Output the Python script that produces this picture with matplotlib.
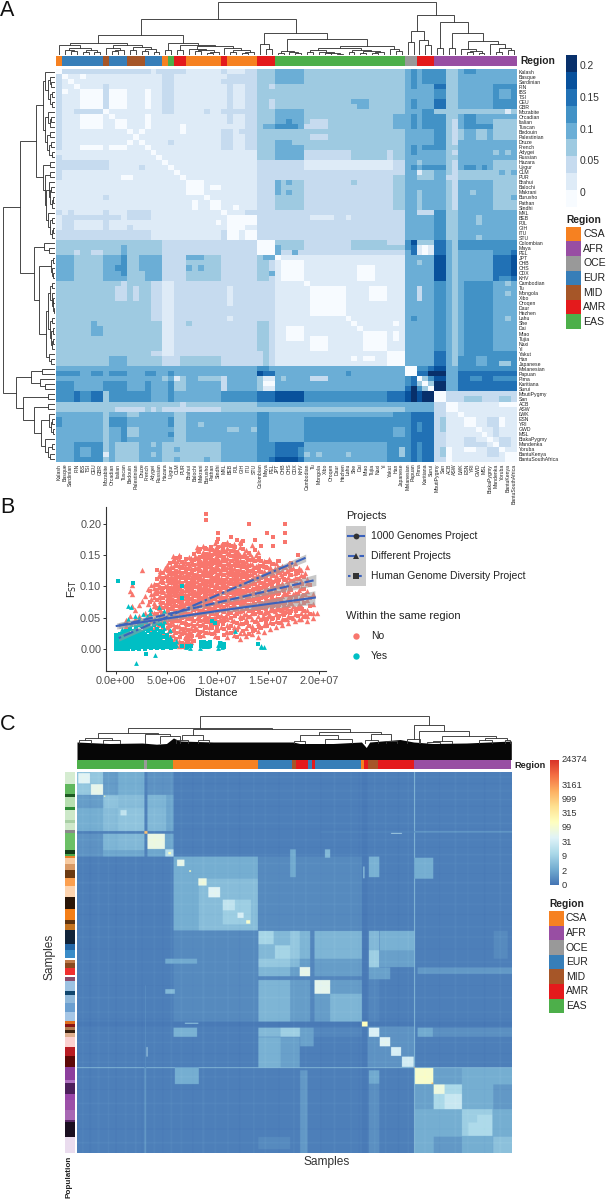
import numpy as np
import matplotlib
matplotlib.use('Agg')
import matplotlib.pyplot as plt
from matplotlib.colors import ListedColormap, LinearSegmentedColormap, BoundaryNorm
from matplotlib.patches import Rectangle

plt.rcParams['font.family'] = ['Liberation Sans', 'DejaVu Sans']
W, H = 606, 1199
fig = plt.figure(figsize=(W / 100, H / 100), dpi=100)

def ax_px(x0, y0, x1, y1):
    a = fig.add_axes([x0 / W, 1 - y1 / H, (x1 - x0) / W, (y1 - y0) / H])
    return a

# ------------------------------------------------------------ data: shared
REGIONS = ['CSA', 'AFR', 'OCE', 'EUR', 'MID', 'AMR', 'EAS']
REGION_COLORS = {'CSA': '#F68121', 'AFR': '#984EA3', 'OCE': '#999999', 'EUR': '#377EB8',
                 'MID': '#A65628', 'AMR': '#E41A1C', 'EAS': '#4DAF4A'}

# ------------------------------------------------------------ data: panel A
POPS = ['Kalash', 'Basque', 'Sardinian', 'FIN', 'IBS', 'TSI', 'CEU', 'GBR', 'Mozabite', 'Orcadian', 'Italian',
        'Tuscan', 'Bedouin', 'Palestinian', 'Druze', 'French', 'Adygei', 'Russian', 'Hazara', 'Uygur', 'CLM', 'PUR',
        'Brahui', 'Balochi', 'Makrani', 'Burusho', 'Pathan', 'Sindhi', 'MXL', 'BEB', 'PJL', 'GIH', 'ITU', 'STU',
        'Colombian', 'Maya', 'PEL', 'JPT', 'CHB', 'CHS', 'CDX', 'KHV', 'Cambodian', 'Tu', 'Mongola', 'Xibo', 'Oroqen',
        'Daur', 'Hezhen', 'Lahu', 'She', 'Dai', 'Miao', 'Tujia', 'Naxi', 'Yi', 'Yakut', 'Han', 'Japanese',
        'Melanesian', 'Papuan', 'Pima', 'Karitiana', 'Surui', 'MbutiPygmy', 'San', 'ACB', 'ASW', 'LWK', 'ESN', 'YRI',
        'GWD', 'MSL', 'BiakaPygmy', 'Mandenka', 'Yoruba', 'BantuKenya', 'BantuSouthAfrica']
POP_REGION_RUNS = [('CSA', 1), ('EUR', 7), ('MID', 1), ('EUR', 3), ('MID', 3), ('EUR', 3), ('CSA', 1), ('EAS', 1),
                   ('AMR', 2), ('CSA', 6), ('AMR', 1), ('CSA', 5), ('AMR', 3), ('EAS', 22), ('OCE', 2), ('AMR', 3),
                   ('AFR', 14)]
FST_LEVELS = [-0.0125, 0.0125, 0.0375, 0.0625, 0.0875, 0.1125, 0.1375, 0.1625, 0.2]
FST_COLORS = ['#f7fbff', '#deebf7', '#c6dbef', '#9ecae1', '#6baed6', '#4292c6', '#2171b5', '#08519c', '#08306b']
FST_BOUNDS = [-0.025, 0, 0.025, 0.05, 0.075, 0.1, 0.125, 0.15, 0.175, 0.225]
FST_TICKS = [0, 0.05, 0.1, 0.15, 0.2]
# (row from, row to, col from, col to, level); painted in order on both triangles
FST_BLOCKS = [
 (0,1,1,16,2),(0,1,17,22,2),(0,1,28,29,2),(1,16,0,1,2),(1,9,18,20,2),(3,8,8,9,2),(8,9,3,4,2),(8,9,6,8,2),
 (1,3,29,34,2),(2,16,32,34,2),(1,11,29,30,2),(8,9,28,32,2),(12,13,28,30,2),(12,13,31,32,2),(14,15,28,30,2),
 (14,15,19,20,2),(8,9,25,26,2),(18,20,0,9,2),(25,26,8,9,2),
 (4,8,4,8,0),(4,8,9,12,0),(4,8,15,16,0),(9,12,4,8,0),(9,12,15,16,0),(10,12,10,12,0),(15,16,4,8,0),(15,16,9,12,0),
 (1,2,4,5,0),(4,5,1,2,0),(12,13,21,22,0),(12,13,14,15,0),(21,22,11,12,0),
 (29,30,1,11,2),(28,30,13,14,2),(28,30,15,16,2),(28,34,2,3,2),(28,31,8,9,2),(30,32,1,2,2),(32,34,0,15,2),
 (28,29,32,34,2),(32,34,28,29,2),
 (22,25,22,25,0),(23,24,26,28,0),(26,28,26,28,0),(26,28,23,24,0),(27,28,30,31,0),(30,31,27,28,0),
 (29,32,29,32,0),(29,31,32,34,0),(32,34,29,31,0),(32,34,32,34,0),
 (0,34,34,37,3),(16,22,34,37,2),(16,19,34,36,3),(28,34,34,37,2),(30,33,35,36,3),(28,29,34,35,0),(28,29,36,37,0),
 (12,13,35,36,4),(2,3,34,35,2),(2,3,36,37,2),(6,8,36,37,2),
 (0,17,37,59,3),(17,34,37,59,2),(0,3,37,42,4),(9,12,37,42,4),(12,13,37,41,5),(14,17,37,42,4),(18,20,42,57,1),
 (22,28,37,42,3),(22,25,37,38,4),(22,23,39,40,4),(24,25,39,40,4),(6,7,51,53,4),(7,8,50,51,4),(9,12,57,58,4),
 (11,12,58,59,4),(11,12,42,46,2),(10,11,43,46,2),(13,14,43,46,2),(16,17,42,50,2),(16,18,56,57,2),(18,20,57,59,2),
 (22,28,57,59,3),(26,28,57,58,2),(22,23,50,51,3),(29,30,43,47,1),(29,30,49,50,1),
 (0,34,59,61,4),(0,4,60,61,5),(6,8,60,61,5),(9,12,60,61,5),(15,17,60,61,5),(19,20,59,61,5),
 (0,34,61,64,4),(0,4,62,64,5),(4,6,63,64,5),(3,4,63,64,6),(6,8,63,64,6),(6,8,62,63,5),(9,12,62,64,5),(14,17,62,64,5),
 (18,19,61,63,3),(19,20,61,64,5),(20,22,61,64,3),(20,21,61,62,2),(22,34,61,62,3),(28,29,61,64,2),
 (0,34,64,66,5),(3,4,64,66,6),(6,8,64,66,6),(16,28,64,66,4),(19,20,64,66,5),
 (0,34,66,68,3),(0,1,66,67,4),(10,18,67,68,2),(21,22,66,68,2),(28,34,67,68,2),
 (0,34,68,78,4),(0,1,69,71,5),(3,8,73,78,5),(4,6,74,76,4),(9,12,69,71,5),(11,12,71,73,5),(12,14,71,73,3),
 (12,14,74,78,3),(16,17,74,75,3),(16,17,76,77,3),(19,20,69,71,5),(19,20,72,73,5),(18,22,73,78,3),(20,22,68,73,3),
 (23,28,73,78,3),(26,27,76,78,4),(29,31,71,72,3),(33,34,71,72,3),(20,21,75,76,4),
 (34,37,0,18,3),(34,37,18,34,2),(36,37,3,4,2),(36,37,6,8,2),(35,37,11,12,4),(34,37,34,37,0),
 (34,37,37,59,2),(34,37,37,42,3),(34,37,50,54,3),(34,37,59,61,4),(34,35,60,61,7),(34,37,61,64,1),(34,37,64,66,6),
 (34,37,66,68,3),(34,37,68,78,4),(34,35,76,78,5),
 (37,42,0,3,4),(37,42,3,8,3),(37,42,8,12,4),(37,41,11,12,5),(39,40,10,11,5),(37,42,12,14,3),(37,42,14,18,4),
 (40,42,14,15,3),(37,42,18,20,2),(37,42,20,21,2),(37,42,28,34,2),
 (42,59,0,18,3),(10,11,43,46,2),(11,12,42,46,2),(13,14,43,46,2),(50,53,6,8,4),(50,51,7,8,3),(57,59,9,12,4),
 (42,50,16,18,2),(56,57,16,18,2),(57,59,21,26,3),(57,58,26,28,3),
 (37,42,34,36,3),(37,42,36,37,2),(40,41,36,37,4),(37,38,35,37,4),
 (42,50,34,36,2),(50,56,34,36,3),(56,59,35,36,3),(42,59,36,37,2),
 (37,59,37,59,1),(43,49,43,49,0),(53,56,43,46,0),(52,56,52,56,0),(43,46,53,55,0),(39,42,51,54,0),(38,42,38,42,0),
 (57,58,50,51,0),(57,58,52,54,0),(56,59,56,59,0),
 (37,59,59,60,4),(37,42,60,61,5),(42,59,60,61,4),(42,43,59,60,3),(49,50,60,61,5),
 (37,42,61,62,4),(42,59,61,62,3),(43,46,61,62,2),(56,59,61,62,2),(37,59,62,64,4),(49,50,63,64,5),
 (37,42,64,66,7),(37,38,64,66,6),(41,42,64,66,6),(42,56,64,66,5),(56,59,64,66,6),
 (37,59,66,68,4),(43,59,67,68,2),
 (37,42,68,73,4),(42,59,68,69,4),(42,59,69,73,5),(56,58,70,73,4),
 (37,42,73,78,6),(38,41,77,78,7),(42,59,73,78,4),(42,43,76,77,3),(45,46,76,77,3),(50,51,76,77,3),
 (59,64,0,59,4),(60,61,0,4,5),(60,61,6,8,5),(60,61,9,12,5),(60,61,15,17,5),(60,61,19,20,5),(60,61,34,35,7),
 (60,61,35,37,6),(59,60,34,36,5),(61,62,20,21,1),(61,62,21,22,3),(61,62,24,29,3),(61,64,28,29,2),(61,64,34,35,3),
 (61,64,35,37,1),(62,63,35,37,0),(61,62,38,39,3),(62,64,0,3,5),(62,64,8,12,5),(62,64,15,16,5),(61,62,18,19,3),
 (62,64,19,20,5),(62,64,20,22,3),(60,61,49,50,5),(61,62,43,46,2),
 (59,64,59,64,6),(59,61,59,61,0),(59,60,61,63,5),(60,61,63,64,8),(61,62,62,63,3),(62,63,63,64,3),(61,62,63,64,5),
 (59,64,64,66,7),(60,61,64,66,8),(62,64,64,66,8),(59,64,66,68,4),(59,64,68,78,6),(59,60,68,78,5),(61,62,74,77,5),
 (59,60,72,73,6),
 (64,66,0,8,5),(64,66,3,4,6),(64,66,6,8,6),(64,66,8,16,5),(64,66,16,28,4),(64,66,19,20,5),(64,66,28,34,5),
 (64,66,34,37,6),(64,66,37,42,7),(64,66,42,56,5),(64,66,56,59,6),(64,66,64,66,0),(64,66,66,78,2),(64,66,69,71,3),
 (64,66,74,76,3),
 (66,68,0,34,3),(66,68,8,9,2),(67,68,10,15,2),(67,68,16,17,2),(67,68,18,28,2),(66,67,21,22,2),
 (66,67,34,59,4),(67,68,34,59,3),
 (68,78,0,34,4),(68,78,8,9,3),(69,71,0,1,5),(69,71,9,12,5),(71,74,11,12,5),(71,73,12,14,3),(68,69,12,14,3),
 (74,78,10,14,3),(74,78,3,8,5),(75,77,4,6,4),(76,77,8,9,1),(74,75,16,17,3),(76,77,16,17,3),(69,71,19,20,5),
 (72,73,19,20,5),(68,74,20,22,3),(71,72,29,31,3),(71,72,33,34,3),(74,78,18,28,3),(75,76,20,21,4),(77,78,20,21,4),
 (77,78,25,26,4),(70,71,24,25,3),
 (68,78,34,37,5),(68,74,36,37,4),(77,78,36,37,6),(68,74,37,42,4),(74,78,37,42,6),(77,78,37,41,7),(75,77,41,42,5),
 (68,78,42,57,5),(68,69,42,57,4),(74,78,42,56,4),(76,77,42,43,3),(76,77,44,45,3),(76,77,49,50,3),(68,78,57,59,5),
 (71,73,57,59,4),(75,77,58,59,3),
 (68,78,59,60,5),(68,78,60,64,6),(74,78,61,62,5),(70,72,61,62,5),
 (68,78,64,66,2),(69,72,65,66,3),(75,77,65,66,3),
 (66,78,66,78,1),(66,68,66,68,0),(69,71,69,71,0),(69,71,75,76,0),(69,71,73,74,2),(74,75,69,73,2),(74,75,75,77,2),
 (75,77,73,74,2),(76,78,76,78,0),(76,78,66,67,0),(66,67,75,77,0),
 (8,9,64,76,3),
]
_ = None
TREE_G0 = [12, [10, _, [7.5, [5.5, _, [4, _, _]], [5, [3.5, _, _], [3, _, _]]]],
           [10.5, [7, _, [5.5, [4, _, _], _]], [8, [5.5, _, _], [6, [4, _, _], [3.5, _, _]]]]]
TREE_G1 = [12.5, [4.7, _, _], [10.5, [5, _, _], [9, [6.5, _, [5, [4, _, _], [3.5, [2.5, _, _], _]]],
                                                 [7, _, [5, [3.5, _, _], [3, [2, _, _], _]]]]]]
TREE_G2 = [11, _, [6, _, _]]
TREE_G3 = [16, [4.5, [2.5, _, _], [3, _, [2, _, _]]],
           [9.5, [7, [5, [3, _, _], [3.5, _, [2.5, [2, _, _], [1.5, _, _]]]],
                  [5, [3.5, _, _], [4, [2.5, _, _], [3, [2, _, _], _]]]], [6, _, [4, _, _]]]]
TREE_R = [40, [24.5, [13, _, _], [15, _, [10, _, _]]],
          [33, [7, _, _], [22, [7, _, _], [14, [6, _, [4, [3, _, _], [2.5, _, _]]], [10.7, _, [7, [3, _, _], [5, _, _]]]]]]]
TREE_A = [53.5, [36, [20, TREE_G0, TREE_G1], [22, TREE_G2, TREE_G3]], TREE_R]

# ------------------------------------------------------------ data: panel B
DIST_TICKS = [0, 5, 10, 15, 20]
DIST_LABELS = ['0.0e+00', '5.0e+06', '1.0e+07', '1.5e+07', '2.0e+07']
FST_Y_TICKS = [0, 50, 100, 150, 200]
FST_Y_LABELS = ['0.00', '0.05', '0.10', '0.15', '0.20']
# x in 1e6, y in 1/1000
NO_TRI = [
 (1.0,[37,46]),(1.4,[92,53]),(1.6,[103,88,68]),(1.9,[62,47]),(2.3,[70,52]),(2.6,[127,77,44]),(2.9,[58,41,85,35]),
 (3.2,[72,96,48,31]),(3.5,[28,44,61,79,102,87]),
 (3.8,[14,33,47,58,69,74,83,90,97,104]),
 (4.4,[9,18,27,39,50,62,71,77,84,92,99,108,117,124]),
 (5.0,[6,15,24,35,43,52,60,68,75,81,88,95,102,110,119,128,134]),
 (5.6,[7,13,22,31,40,49,57,66,72,80,87,93,100,107,114,122,131,142,149]),
 (6.2,[5,12,20,29,37,46,54,63,70,76,83,90,97,104,111,118,126,135,144,151]),
 (6.8,[4,11,18,26,35,44,52,60,67,74,81,88,95,103,110,116,124,132,141]),
 (7.4,[10,17,25,33,42,50,59,68,75,82,89,96,102,109,115,123,130,138,146]),
 (8.0,[24,32,41,49,57,65,73,80,86,93,100,108,115,122,129,137,145,158,163]),
 (8.6,[22,30,39,47,56,64,71,78,85,92,99,106,113,120,127,134,141,149,156,165]),
 (9.2,[26,35,44,52,61,68,76,83,90,97,104,111,118,125,133,140,147,155,162]),
 (9.8,[20,30,41,49,58,66,74,81,88,95,103,110,117,124,131,139,146,154,160,170]),
 (10.4,[35,46,54,63,71,78,85,92,100,107,114,121,128,136,143,150,158,166]),
 (11.0,[18,27,38,47,57,65,73,80,87,95,102,109,116,123,131,138,146,153,162,172]),
 (11.6,[22,34,45,54,63,71,78,86,93,100,108,115,122,130,137,145,152,160,168]),
 (12.2,[16,25,41,52,60,68,76,84,91,98,106,113,120,128,135,143,150,164,171]),
 (12.8,[20,33,47,56,65,72,80,88,95,103,110,118,125,133,140,149,158]),
 (13.4,[24,36,48,58,66,74,82,90,97,105,112,120,128,136,148,166]),
 (14.0,[18,29,41,52,61,70,78,86,94,102,110,118,127,135,144,155]),
 (14.6,[27,38,49,58,67,75,84,92,100,108,117,125,133,141]),
 (15.2,[31,43,53,62,71,80,88,96,105,113,122,131,140]),
 (15.8,[34,45,55,64,72,82,91,100,110,119,127,137]),
 (16.4,[38,48,57,66,75,85,96,106,116,126,133]),
 (17.0,[42,52,61,70,81,92,104,115,124,136]),
 (17.6,[44,55,65,78,90,103,114,122,137]),
 (18.2,[47,58,69,84,98,109,118,126]),
 (18.8,[45,53,62,78,92,105,112,131]),
 (19.4,[50,58,72,88]),(19.8,[57]),
 (4.25,[66,83,101,118]),(4.9,[48,70,86,101,116,130]),(5.45,[16,44,68,83,99,116,133]),(6.05,[10,36,60,79,94,108,124,141]),
 (6.65,[6,30,55,71,88,102,118,137]),(7.25,[7,28,52,74,91,105,120,134,147]),(7.85,[35,58,75,90,103,118,131,149]),
 (8.45,[40,62,79,94,108,122,136,152]),(9.05,[46,65,80,95,109,122,138,150]),(9.65,[26,50,69,84,98,113,127,141,157]),
 (10.25,[47,66,81,96,110,124,138,153]),(10.85,[26,53,71,85,99,113,128,143,159,168]),(11.45,[46,68,84,98,113,127,142,158]),
 (12.05,[37,60,78,94,109,124,139,156]),(12.65,[25,56,76,92,107,122,137,154]),(13.25,[53,72,89,105,120,136,152]),
 (13.85,[46,68,85,100,116,132,150]),(14.45,[52,72,88,104,120,136]),(15.05,[56,75,92,108,126,144]),
 (15.65,[60,78,95,112,130]),(16.25,[43,62,80,100,120]),(16.85,[47,66,88,108,127]),(17.45,[50,68,88,110,130]),
 (18.05,[48,72,94,114,130]),(18.65,[56,88,122]),
]
NO_SQ = [
 (3.4,[52,75,93]),(4.1,[21,40,55,66,78,88,95,103,112,127]),
 (4.7,[11,20,31,42,53,65,73,82,90,97,105,113,121]),
 (5.3,[9,18,27,37,46,56,63,71,78,85,91,98,105,112,120,127,138]),
 (5.9,[6,16,25,34,44,51,61,69,77,84,90,96,103,110,117,125,133,146]),
 (6.5,[3,9,23,32,41,50,58,65,73,79,86,93,100,106,113,121,129,139]),
 (7.1,[8,14,21,30,38,47,55,63,71,78,85,92,98,106,113,120,128,136]),
 (7.7,[13,28,37,45,54,62,70,77,84,91,99,105,112,119,127,134,142,152]),
 (8.3,[19,27,36,44,53,61,68,75,82,89,96,103,110,117,125,132,139,148,160]),
 (8.9,[25,34,43,50,59,67,74,81,88,94,101,108,116,123,130,137,144,152,160,207,217]),
 (9.5,[23,33,38,47,55,63,71,79,86,93,100,107,114,121,128,136,143,151,158]),
 (10.1,[17,28,39,43,51,60,68,75,83,90,98,105,112,119,126,134,141,149,156,163,176,185]),
 (10.7,[22,31,44,50,59,67,75,82,89,97,104,111,118,126,133,141,148,155,168]),
 (11.3,[25,36,49,57,66,74,81,89,96,104,111,118,126,133,141,149,157,165,180]),
 (11.9,[19,30,42,55,64,73,80,88,95,102,110,117,125,132,140,147,155,175]),
 (12.5,[28,39,50,60,69,77,85,92,100,107,115,123,131,139,148,160,173]),
 (13.1,[23,37,51,61,70,78,85,93,101,109,116,124,133,142,153,200]),
 (13.7,[30,43,55,63,71,80,88,96,104,112,121,130,140,158,175]),
 (14.3,[33,46,57,65,74,82,90,98,106,114,123,132,141,165]),
 (14.9,[36,47,58,68,77,85,94,103,111,120,129,139,185]),
 (15.5,[39,50,60,69,78,87,97,107,116,125,136,165,180]),
 (16.1,[41,52,62,70,80,90,100,111,121,130,140]),
 (16.7,[46,57,65,74,86,98,110,120,129,172,185,200]),
 (17.3,[49,60,71,83,95,108,118,126,137]),
 (17.9,[53,63,76,88,100,112,121,151]),
 (18.5,[51,60,73,86,96,115]),
 (19.1,[56,68,82,102]),
 (4.55,[58,74,94,110,122]),(5.15,[33,61,76,93,108,124]),(5.75,[28,54,75,92,105,121,139]),(6.35,[18,44,67,81,97,115,131,148]),
 (6.95,[15,40,64,84,99,112,127,144]),(7.55,[20,47,66,80,94,110,125,140]),(8.15,[22,48,69,85,98,113,127,143,155]),
 (8.75,[33,55,72,87,103,118,131,146,161]),(9.35,[37,58,74,91,106,119,133,149,164]),(9.95,[34,56,72,86,101,115,129,144,159,172]),
 (10.55,[40,60,76,90,105,118,132,147,162]),(11.15,[33,58,76,91,106,120,135,150,167]),(11.75,[28,52,74,90,104,119,134,149,163]),
 (12.35,[48,70,88,103,118,132,147,168]),(12.95,[41,63,82,98,114,129,145]),(13.55,[29,59,78,94,110,125,143]),
 (14.15,[35,62,80,96,112,128,146]),(14.75,[42,64,81,97,113,131]),(15.35,[47,66,84,101,118,136]),
 (15.95,[50,69,87,105,123,141]),(16.55,[54,72,92,112,130]),(17.15,[58,76,98,119,132]),(17.75,[60,82,104,125]),(18.35,[64,80,104]),
]
YES_SQ = [
 (0.0,[0,3,6,9,12,15,18,22]),(0.2,[1,5,8,11,14,17,21,108]),(0.4,[0,4,7,10,13,16,20,24]),(0.6,[2,6,9,12,15,19,23]),
 (0.8,[0,3,7,11,14,18,22,26]),(1.0,[1,5,8,12,16,20,25,29]),(1.2,[0,4,9,13,17,21,27]),(1.4,[2,6,10,15,19,24,31]),
 (1.7,[0,5,9,13,18,23,28,105]),(2.0,[1,6,11,15,20,26,34]),(2.3,[0,4,8,13,17,22,29,38]),(2.6,[2,7,12,16,21,27,36]),
 (2.9,[0,5,9,14,19,24,31,43]),(3.0,[-8]),(3.2,[2,6,11,16,21,28,35]),(3.5,[1,7,12,18,24,33,47]),(3.8,[3,8,14,20,27,38]),
 (4.1,[1,6,12,17,23,31,42]),(4.4,[2,8,14,21,29,39]),(4.7,[1,6,11,18,26,36]),(5.0,[3,9,15,22]),(5.4,[1,6,12]),
 (5.8,[3,8]),(6.5,[81,100,4]),(7.0,[2,5]),(7.4,[4]),(8.4,[5,10]),(8.7,[3,8,11]),(9.0,[2,6,9]),(9.3,[5,10]),
 (9.5,[45]),(9.8,[42]),(10.3,[4,9]),(10.7,[3,7]),(14.0,[8]),
]
YES_TRI = [
 (0.6,[27,31]),(1.2,[47,68]),(1.5,[67,40]),(1.9,[35,52]),(2.0,[-23]),(2.3,[43,50]),(2.7,[56,30,45]),(3.1,[53,38,41]),
 (3.4,[57,63,33]),(3.9,[-10,30,47]),(4.3,[67,50,25]),(4.8,[44,60,33]),(5.3,[30,18]),(5.9,[12,6]),(6.9,[3]),(7.3,[1,6]),
 (8.3,[1]),(9.1,[5,10]),(10.1,[1,6]),(10.5,[2,9]),(11.7,[28]),(14.3,[3,5]),(14.6,[3]),
]
NO_CIRC = [(4.2,[36]),(5.6,[44]),(6.6,[28]),(8.2,[70]),(9.4,[66]),(10.9,[92]),(12.4,[84]),(15.3,[74])]
YES_CIRC = [(0.5,[10,17]),(1.1,[6,19]),(1.9,[9]),(2.5,[13]),(3.7,[16])]
# fit lines and their ribbons: x, fit, half width
FIT_SOLID = ([0.1, 10.0, 19.6], [36.5, 60.5, 82.0], [5, 2.5, 11])
FIT_DASH = ([0.3, 10.0, 19.7], [37.0, 74.0, 110.5], [5, 2.5, 9])
FIT_DOTDASH = ([0.3, 10.0, 18.7], [17.0, 86.0, 146.0], [5, 2.5, 6])
PROJECTS = ['1000 Genomes Project', 'Different Projects', 'Human Genome Diversity Project']

# ------------------------------------------------------------ data: panel C
CM_COLORS = ['#4575B4', '#74ADD1', '#ABD9E9', '#E0F3F8', '#FFFFBF', '#FEE090', '#FDAE61', '#F46D43', '#D73027']
CM_LABELS = ['24374', '3161', '999', '315', '99', '31', '9', '2', '0']
CM_VALUES = [1.0, 0.8, 0.686, 0.57, 0.456, 0.34, 0.23, 0.11, 0.0]
TOP_RUNS = [(0, 155, 'EAS'), (155, 162, 'OCE'), (162, 222, 'EAS'), (222, 416, 'CSA'), (416, 494, 'EUR'), (494, 505, 'MID'),
            (505, 532, 'AMR'), (532, 541, 'EUR'), (541, 548, 'AMR'), (548, 654, 'EUR'), (654, 660, 'CSA'), (660, 670, 'AMR'),
            (670, 694, 'MID'), (694, 775, 'AMR'), (775, 1000, 'AFR')]
POP_EDGES = [0, 31, 59, 67, 92, 101, 127, 134, 153, 162, 206, 216, 221, 227, 241, 258, 278, 300, 330, 361, 389, 400, 416,
             451, 468, 490, 494, 503, 514, 534, 538, 549, 575, 586, 608, 630, 654, 662, 669, 678, 687, 696, 722, 747,
             776, 809, 818, 846, 862, 888, 914, 919, 958, 1000]
POP_COLORS = ['#d5ecd1', '#60b85d', '#1e5a22', '#b7dfb0', '#2e8b36', '#cce8c8', '#a9cfa5', '#cfe8ca', '#8a8a8a', '#6cc066',
              '#133d18', '#4aa84a', '#e8832a', '#f7caa0', '#d99a66', '#6b3a12', '#fca050', '#fdd4b0', '#2a1608', '#f47f18',
              '#5d3310', '#c47320', '#12243a', '#2467a8', '#3a8cc8', '#ffffff', '#c07a4a', '#8a4a20', '#f03030', '#ffffff',
              '#8d4a6a', '#9cc2e2', '#11466e', '#8fb8da', '#6b9fd0', '#a5c6e6', '#e07020', '#8a1515', '#b07a50', '#3a2010',
              '#e0b090', '#fbd0d0', '#b81c24', '#5e0808', '#8d3f9d', '#b070c0', '#4d1f5c', '#9845a8', '#9c50a8', '#a868b4',
              '#5a2a66', '#1a0f20', '#eadcee']
# (from, to, from, to, colour position) in sample order
IBD_BLOCKS = [
 (0,222,0,222,.08),(0,60,0,60,.19),(60,155,60,155,.17),(0,60,63,95,.09),(0,60,95,155,.13),(63,95,63,95,.19),(95,155,95,155,.19),
 (3,30,3,30,.38),(32,60,32,60,.4),(0,30,32,60,.2),(100,114,100,114,.3),(62,65,62,65,.5),
 (162,222,162,222,.11),(162,202,162,202,.42),(203,222,203,222,.28),(210,216,210,216,.5),(0,60,162,222,.07),
 (60,155,162,205,.15),(60,155,205,222,.11),(95,155,162,205,.16),(155,162,0,222,.03),
 (222,416,222,416,.13),(280,416,280,416,.17),(335,400,335,400,.22),(230,247,230,247,.4),(279,298,279,298,.42),
 (302,329,302,329,.38),(335,363,335,363,.3),(369,383,369,383,.36),(389,398,389,398,.47),(258,262,258,262,.5),
 (222,416,417,655,.05),(490,503,203,276,.12),(570,582,203,225,.16),
 (417,655,417,655,.09),(417,512,417,512,.16),(417,490,512,655,.15),(417,452,417,452,.24),(455,490,455,490,.24),
 (512,536,512,536,.4),(546,582,546,582,.4),(610,620,610,620,.4),(582,655,582,655,.15),(490,512,417,490,.2),
 (536,546,417,655,.04),
 (655,668,0,1000,.012),(658,661,248,279,.18),(655,668,655,668,.5),
 (668,775,668,775,.07),(671,695,671,695,.36),(696,720,696,720,.38),(722,745,722,745,.36),(747,774,747,774,.34),
 (671,695,417,490,.16),(696,775,417,490,.14),(671,695,222,276,.14),(671,695,490,655,.04),(671,695,490,515,.16),
 (468,512,671,695,.22),(468,512,696,775,.1),(671,720,513,544,.1),
 (775,1000,775,1000,.12),(776,819,776,819,.47),(820,885,820,885,.25),(820,845,820,845,.43),(845,885,845,885,.32),
 (885,955,885,955,.22),(900,955,920,955,.26),(957,1000,957,1000,.18),(776,819,820,885,.1),(776,885,885,1000,.13),
 (820,885,957,1000,.08),(885,955,955,1000,.13),
 (775,777,0,1000,.18),(157,158,560,1000,.08),(775,1000,155,159,.08),(722,747,160,162,.28),
 (783,1000,513,530,.08),(783,818,671,695,.12),(818,1000,671,695,.06),(783,815,228,250,.12),(958,990,417,490,.05),
 (225,280,775,819,.13),(815,819,815,819,.7),(775,777,775,777,.8),(155,162,155,162,.7),
]
# thin lighter or darker lines that run through the whole matrix: from, to, change of colour position
IBD_STRIPES = [(12,15,.01),(28,33,-.008),(47,52,.008),(71,74,.012),(88,92,-.006),(110,114,.01),(133,137,.012),(148,151,-.006),
               (176,180,.01),(196,199,-.008),(215,219,.012),(238,242,.01),(265,268,-.006),(288,293,.012),(316,320,.008),
               (345,349,.01),(372,376,-.008),(405,408,.014),(431,435,.01),(463,466,-.006),(497,500,.012),(524,528,.009),
               (559,562,-.007),(590,594,.011),(628,632,.01),(647,650,-.006),(683,686,.011),(708,711,.012),(737,741,-.007),
               (760,763,.013),(798,802,.01),(832,835,-.006),(868,872,.011),(897,900,.009),(935,939,-.006),(971,975,.012)]
# dendrogram heights in pixels above the base of the black mass, leaves given in sample order
TREE_C = [44,
          [32, [27, [21.7, [19.3, 5, 32], [20, 60, 100]], [26, 157, [24, 190, 238]]],
           [31, [24.3, [20, 229, 255], [19.5, 278, 304]],
            [27.7, [24.3, [19, 500, 526], [21, 570, 634]], [26, [20, 664, 692], [19, 712, 736]]]]],
          [35, [21, 760, 790],
           [28.7, 788, [23.7, [18.7, [18, 805, 835], 863], [22, [19.5, 925, 955], [20, 985, 997]]]]]]
MASS_S = [0, 75, 150, 183, 206, 222, 237, 314, 414, 498, 513, 590, 655, 666, 674, 744, 775, 820, 897, 1000]
MASS_H = [17.5, 16, 16.5, 15.3, 16, 21.5, 18.5, 17.5, 17.5, 17.5, 16, 16, 17.5, 12, 17.5, 20, 17.5, 16, 16.5, 18.5]

# ============================================================ panel A
def tree_links(node, leaf_x, links):
    if node is None:
        x = leaf_x[0]
        leaf_x[0] += 1
        return x + 0.5, 0.0
    h, a, b = node
    xa, ha = tree_links(a, leaf_x, links)
    xb, hb = tree_links(b, leaf_x, links)
    links.append((xa, xb, ha, hb, h))
    return (xa + xb) / 2, h

def tree_links_c(node, links):
    if not isinstance(node, list):
        return float(node), 17.0
    h, a, b = node
    xa, ha = tree_links_c(a, links)
    xb, hb = tree_links_c(b, links)
    links.append((xa, xb, ha, hb, h))
    return (xa + xb) / 2, h

n = len(POPS)
M = np.ones((n, n), dtype=int)
for r0, r1, c0, c1, lv in FST_BLOCKS:
    M[r0:r1, c0:c1] = lv
    M[c0:c1, r0:r1] = lv
np.fill_diagonal(M, 0)
vals = np.array(FST_LEVELS)[M]
cm_fst = ListedColormap(FST_COLORS)
norm_fst = BoundaryNorm(FST_BOUNDS, 9)

ax = ax_px(56, 69, 517, 462)
ax.imshow(vals, cmap=cm_fst, norm=norm_fst, aspect='auto', interpolation='nearest', extent=(0, n, n, 0))
ax.set_xticks(np.arange(n) + .5, POPS, rotation=90, fontsize=3.7, color='#222222')
ax.yaxis.tick_right()
ax.set_yticks(np.arange(n) + .5, POPS, fontsize=3.7, color='#222222')
ax.tick_params(length=0, pad=1.2)
for s in ax.spines.values():
    s.set_visible(False)

links = []
tree_links(TREE_A, [0], links)
ax = ax_px(56, 0, 517, 55)
for xa, xb, ha, hb, h in links:
    ax.plot([xa, xa, xb, xb], [ha, h, h, hb], color='#3a3a3a', lw=0.65, solid_joinstyle='miter')
ax.set_xlim(0, n); ax.set_ylim(0, 55); ax.axis('off')

ax = ax_px(3, 69, 55, 462)
for xa, xb, ha, hb, h in links:
    ax.plot([ha, h, h, hb], [xa, xa, xb, xb], color='#3a3a3a', lw=0.65, solid_joinstyle='miter')
ax.set_ylim(n, 0); ax.set_xlim(53.5, 0); ax.axis('off')

ax = ax_px(56, 56, 517, 66)
pos = 0
for reg, cnt in POP_REGION_RUNS:
    ax.barh(0, cnt, left=pos, height=1, color=REGION_COLORS[reg], lw=0)
    pos += cnt
ax.set_xlim(0, n); ax.set_ylim(-.5, .5); ax.axis('off')

ax = ax_px(566, 55, 577, 207)
ax.imshow(np.array(FST_LEVELS[::-1]).reshape(-1, 1), cmap=cm_fst, norm=norm_fst, aspect='auto', interpolation='nearest')
ax.axis('off')

# ============================================================ panel B
ax = ax_px(106.3, 506.7, 326, 670.7)
C_NO, C_YES = '#F8766D', '#00BFC4'
def draw_cols(cols, marker, size, color, z):
    xs = [c[0] for c in cols for _y in c[1]]
    ys = [y for c in cols for y in c[1]]
    ax.scatter(xs, ys, s=size, marker=marker, color=color, linewidths=0, zorder=z)
draw_cols(NO_TRI, '^', 15, C_NO, 2)
draw_cols(NO_SQ, 's', 8.5, C_NO, 2)
draw_cols(NO_CIRC, 'o', 8, C_NO, 2)
draw_cols(YES_TRI, '^', 12, C_YES, 2.5)
draw_cols(YES_SQ, 's', 7.5, C_YES, 2.5)
draw_cols(YES_CIRC, 'o', 8, C_YES, 2.5)
for fit, ls in [(FIT_SOLID, '-'), (FIT_DASH, (0, (4.5, 1.6))), (FIT_DOTDASH, (0, (1.2, 1.4, 5, 1.4)))]:
    fx, fy, fw = [np.array(v, float) for v in fit]
    ax.fill_between(fx, fy - fw, fy + fw, color='#999999', alpha=.55, lw=0, zorder=3)
    ax.plot(fx, fy, color='#3B62BC', lw=1.5, ls=ls, zorder=4)
ax.set_xlim(-0.926, 20.7); ax.set_ylim(-35.4, 228)
ax.set_xticks(DIST_TICKS, DIST_LABELS)
ax.set_yticks(FST_Y_TICKS, FST_Y_LABELS)
ax.tick_params(colors='#4D4D4D', labelsize=7.8, length=2.2, width=.7, pad=1.5, color='#333333')
for k in ('top', 'right'):
    ax.spines[k].set_visible(False)
for k in ('left', 'bottom'):
    ax.spines[k].set_color('#333333'); ax.spines[k].set_linewidth(.8)
ax.set_xlabel('Distance', fontsize=8, color='#222222', labelpad=1.5)
ax.set_ylabel(r'F$_{\mathrm{ST}}$', fontsize=8, color='#222222', labelpad=1)

# ============================================================ panel C
N = 1000
G = np.zeros((N, N)) + .025
for a0, a1, b0, b1, v in IBD_BLOCKS:
    G[a0:a1, b0:b1] = v
    G[b0:b1, a0:a1] = v
for s0, s1, d in IBD_STRIPES:
    G[s0:s1, :] += d
    G[:, s0:s1] += d
cm_ibd = LinearSegmentedColormap.from_list('ibd', CM_COLORS)
ax = ax_px(77, 771.7, 511.3, 1152.7)
ax.imshow(G, cmap=cm_ibd, vmin=0, vmax=1, aspect='auto', interpolation='antialiased', extent=(0, N, N, 0))
ax.axis('off')

ax = ax_px(77, 760, 511.3, 769)
for s0, s1, reg in TOP_RUNS:
    ax.barh(0, s1 - s0, left=s0, height=1, color=REGION_COLORS[reg], lw=0)
ax.set_xlim(0, N); ax.set_ylim(-.5, .5); ax.axis('off')

ax = ax_px(65.3, 771.7, 74.7, 1152.7)
for i, c in enumerate(POP_COLORS):
    ax.bar(0, POP_EDGES[i + 1] - POP_EDGES[i], bottom=POP_EDGES[i], width=1, color=c, lw=0)
ax.set_ylim(N, 0); ax.set_xlim(-.5, .5); ax.axis('off')

ax = ax_px(77, 714, 511.3, 759.5)
ax.fill_between(MASS_S, 0, MASS_H, color='#060606', lw=0)
links_c = []
tree_links_c(TREE_C, links_c)
for xa, xb, ha, hb, h in links_c:
    ax.plot([xa, xa, xb, xb], [ha, h, h, hb], color='#3a3a3a', lw=0.65, solid_joinstyle='miter')
ax.set_xlim(0, N); ax.set_ylim(0, 45.5); ax.axis('off')

ax = ax_px(550, 760, 559, 885)
ax.imshow(np.linspace(1, 0, 256).reshape(-1, 1), cmap=cm_ibd, vmin=0, vmax=1, aspect='auto', extent=(0, 1, 0, 1))
ax.axis('off')

# ============================================================ overlay: texts and keys
ov = fig.add_axes([0, 0, 1, 1], zorder=10)
ov.set_xlim(0, W); ov.set_ylim(H, 0); ov.axis('off'); ov.patch.set_alpha(0)
def T(x, y, s, **k):
    k.setdefault('va', 'center'); k.setdefault('ha', 'left')
    ov.text(x, y, s, **k)
for lab, x, y in [('A', 0, 10.5), ('B', 0, 507.5), ('C', 0, 724.5)]:
    T(x, y, lab, fontsize=15.5, color='#111111')

T(520, 61, 'Region', fontsize=7.4, fontweight='bold', color='#222222')
for v, y in zip(FST_TICKS, [193, 161.5, 130, 98, 66]):
    T(580, y, f'{v:g}', fontsize=7.4, color='#333333')
T(566, 220, 'Region', fontsize=7.4, fontweight='bold', color='#222222')
for i, r in enumerate(REGIONS):
    ov.add_patch(Rectangle((566, 226.7 + i * 14.63), 14.5, 14.63, color=REGION_COLORS[r], lw=0))
    T(583, 226.7 + (i + .5) * 14.63, r, fontsize=7.6, color='#222222')

T(346, 516, 'Projects', fontsize=8, color='#222222')
ov.add_patch(Rectangle((345.5, 526), 20.5, 60, color='#CCCCCC', lw=0))
for i, (name, ls, mk) in enumerate(zip(PROJECTS, ['-', (0, (4, 1.5)), (0, (1.2, 1.4, 4, 1.4))], ['o', '^', 's'])):
    y = 536 + 20 * i
    ov.plot([347.5, 364], [y, y], color='#3B62BC', lw=1.5, ls=ls)
    ov.plot([355.5], [y], marker=mk, ms=4.2, color='#333333', mew=0)
    T(371, y, name, fontsize=7.5, color='#222222')
T(346, 616, 'Within the same region', fontsize=8, color='#222222')
for lab, c, y in [('No', C_NO, 636), ('Yes', C_YES, 656)]:
    ov.plot([355.5], [y], marker='o', ms=4.6, color=c, mew=0)
    T(371, y, lab, fontsize=7.5, color='#222222')

T(514, 765, 'Region', fontsize=6.6, fontweight='bold', color='#222222')
T(327, 1162, 'Samples', fontsize=8.6, color='#333333', ha='center')
T(49, 957, 'Samples', fontsize=8.6, color='#333333', ha='center', rotation=90)
T(69, 1176.5, 'Population', fontsize=5.9, fontweight='bold', color='#222222', ha='center', rotation=90)
for v, lab in zip(CM_VALUES, CM_LABELS):
    T(562, 885 - 125 * v, lab, fontsize=6.7, color='#333333')
T(549, 904, 'Region', fontsize=7.4, fontweight='bold', color='#222222')
for i, r in enumerate(REGIONS):
    ov.add_patch(Rectangle((549, 911 + i * 14.62), 14.6, 14.62, color=REGION_COLORS[r], lw=0))
    T(566, 911 + (i + .5) * 14.62, r, fontsize=7.5, color='#222222')

fig.savefig('out.png', dpi=100)
